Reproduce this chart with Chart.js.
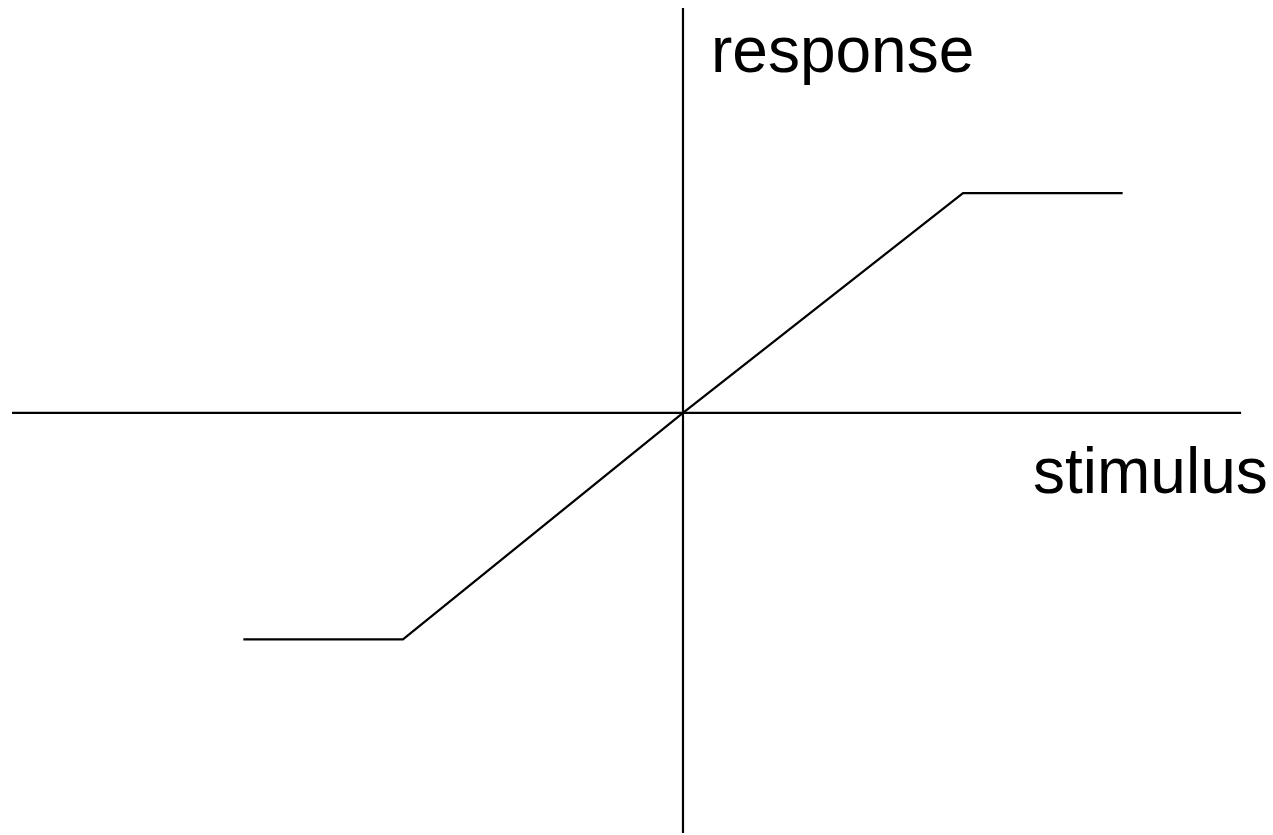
<!DOCTYPE html>
<html>
<head>
<meta charset="utf-8">
<script src="https://cdn.jsdelivr.net/npm/chart.js@4/dist/chart.umd.min.js"></script>
<style>
  html, body { margin: 0; padding: 0; background: #fff; }
  #wrap { width: 1273px; height: 835px; position: relative; }
</style>
</head>
<body>
<div id="wrap"><canvas id="responseChart"></canvas></div>
<script>
// saturating response curve (stimulus -> response)
const curveX = [-1.57, -1.0, 0, 1.0, 1.57];
const curveY = [-1.02, -1.02, 0, 0.99, 0.99];

// axis lines
const stimAxisX = [-2.396, 1.993];
const stimAxisY = [0, 0];
const respAxisX = [0, 0];
const respAxisY = [-1.892, 1.824];

// axis labels: [text, x, y]
const axisLabels = [
    ['response', 0.1, 1.536],
    ['stimulus', 1.25, -0.36]
];

const toPoints = (xs, ys) => xs.map((x, i) => ({ x, y: ys[i] }));

const labelPlugin = {
    id: 'axisLabels',
    afterDatasetsDraw(chart) {
        const ctx = chart.ctx;
        const xs = chart.scales.x, ys = chart.scales.y;
        ctx.save();
        ctx.fillStyle = '#000';
        ctx.font = '64px "Liberation Sans", Arial, sans-serif';
        ctx.textAlign = 'left';
        ctx.textBaseline = 'alphabetic';
        axisLabels.forEach(([txt, x, y]) => {
            ctx.fillText(txt, xs.getPixelForValue(x), ys.getPixelForValue(y));
        });
        ctx.restore();
    }
};

const lineStyle = {
    borderColor: '#000',
    borderWidth: 2.2,
    pointRadius: 0,
    showLine: true,
    fill: false,
    tension: 0
};

new Chart('responseChart', {
    type: 'scatter',
    data: {
        datasets: [
            Object.assign({ label: 'stimulus axis', data: toPoints(stimAxisX, stimAxisY) }, lineStyle),
            Object.assign({ label: 'response axis', data: toPoints(respAxisX, respAxisY) }, lineStyle),
            Object.assign({ label: 'response', data: toPoints(curveX, curveY) }, lineStyle)
        ]
    },
    options: {
        responsive: true,
        maintainAspectRatio: false,
        animation: false,
        layout: { padding: 0 },
        plugins: {
            legend: { display: false },
            tooltip: { enabled: false }
        },
        scales: {
            x: { type: 'linear', display: false, min: -2.439, max: 2.107 },
            y: { type: 'linear', display: false, min: -1.901, max: 1.860 }
        }
    },
    plugins: [labelPlugin]
});
</script>
</body>
</html>
